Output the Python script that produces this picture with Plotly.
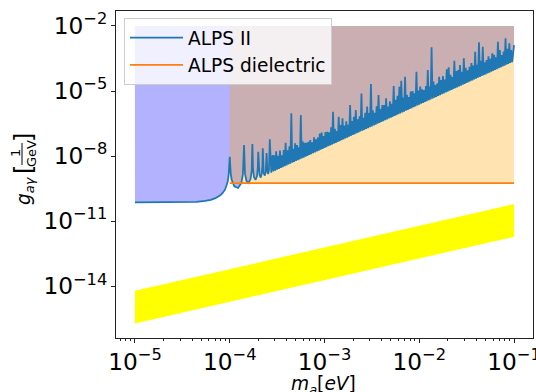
import plotly.graph_objects as go

# ALPS II sensitivity: pairs of (log10 m_a [eV], log10 g_ag [1/GeV])
alps2_flat = [
    (-5.00, -10.14), (-4.70, -10.14), (-4.50, -10.13), (-4.35, -10.11),
    (-4.26, -10.07), (-4.20, -10.02), (-4.151, -9.94), (-4.10, -9.81),
    (-4.077, -9.71), (-4.05, -9.55), (-4.035, -9.37), (-4.02, -9.15),
    (-4.011, -8.86),
]
alps2_resonances = [
    (-4.000, -8.03), (-3.989, -8.82), (-3.979, -9.09), (-3.952, -9.40),
    (-3.912, -9.47), (-3.878, -9.25), (-3.861, -8.85), (-3.849, -7.49),
    (-3.839, -8.81), (-3.824, -9.14), (-3.801, -9.245), (-3.780, -9.05),
    (-3.768, -8.67), (-3.761, -7.45), (-3.754, -8.64), (-3.744, -8.98),
    (-3.728, -9.10), (-3.712, -8.92), (-3.704, -8.54), (-3.699, -7.80),
    (-3.694, -8.52), (-3.686, -8.86), (-3.673, -8.99), (-3.662, -8.82),
    (-3.655, -8.44), (-3.651, -7.64), (-3.642, -8.77), (-3.630, -8.90),
    (-3.620, -8.73), (-3.611, -7.86), (-3.603, -8.70), (-3.594, -8.83),
    (-3.586, -8.66), (-3.577, -7.23), (-3.562, -8.77), (-3.548, -7.95),
]
alps2_comb = [
    (-3.54, -8.71), (-3.53, -7.97), (-3.52, -8.67), (-3.51, -7.78),
    (-3.50, -8.63), (-3.49, -7.99), (-3.48, -8.59), (-3.47, -7.75),
    (-3.46, -8.55), (-3.45, -7.96), (-3.44, -8.51), (-3.43, -7.72),
    (-3.42, -8.47), (-3.41, -7.39), (-3.40, -8.43), (-3.39, -7.74),
    (-3.38, -8.39), (-3.37, -7.55), (-3.36, -8.35), (-3.35, -6.03),
    (-3.34, -8.31), (-3.33, -7.67), (-3.32, -8.27), (-3.31, -7.41),
    (-3.30, -8.23), (-3.29, -7.49), (-3.28, -8.19), (-3.27, -7.60),
    (-3.26, -8.15), (-3.25, -6.11), (-3.24, -8.11), (-3.23, -7.32),
    (-3.22, -8.07), (-3.21, -7.39), (-3.20, -8.03), (-3.19, -7.39),
    (-3.18, -7.99), (-3.17, -7.34), (-3.16, -7.95), (-3.15, -7.26),
    (-3.14, -7.91), (-3.13, -7.37), (-3.12, -7.87), (-3.11, -7.13),
    (-3.10, -7.83), (-3.09, -7.23), (-3.08, -7.79), (-3.07, -7.15),
    (-3.06, -7.75), (-3.05, -6.96), (-3.04, -7.71), (-3.03, -6.92),
    (-3.02, -7.67), (-3.01, -7.08), (-3.00, -7.63), (-2.99, -6.89),
    (-2.98, -7.59), (-2.97, -6.88), (-2.96, -7.55), (-2.95, -6.91),
    (-2.94, -7.51), (-2.93, -6.67), (-2.92, -7.47), (-2.91, -5.96),
    (-2.90, -7.43), (-2.89, -6.74), (-2.88, -7.39), (-2.87, -6.85),
    (-2.86, -7.35), (-2.85, -6.19), (-2.84, -7.31), (-2.83, -6.57),
    (-2.82, -7.27), (-2.81, -6.26), (-2.80, -7.23), (-2.79, -6.59),
    (-2.78, -7.19), (-2.77, -6.40), (-2.76, -7.15), (-2.75, -6.56),
    (-2.74, -7.11), (-2.73, -5.65), (-2.72, -7.07), (-2.71, -6.38),
    (-2.70, -7.03), (-2.69, -6.19), (-2.68, -6.99), (-2.67, -5.88),
    (-2.66, -6.95), (-2.65, -6.31), (-2.64, -6.91), (-2.63, -6.17),
    (-2.62, -6.87), (-2.61, -5.11), (-2.60, -6.83), (-2.59, -6.24),
    (-2.58, -6.79), (-2.57, -6.00), (-2.56, -6.75), (-2.55, -5.72),
    (-2.54, -6.71), (-2.53, -6.02), (-2.52, -6.67), (-2.51, -4.68),
    (-2.50, -6.63), (-2.49, -5.89), (-2.48, -6.59), (-2.47, -6.00),
    (-2.46, -6.55), (-2.45, -5.71), (-2.44, -6.51), (-2.43, -5.19),
    (-2.42, -6.47), (-2.41, -5.83), (-2.40, -6.43), (-2.39, -5.65),
    (-2.38, -6.39), (-2.37, -5.65), (-2.36, -6.35), (-2.35, -5.34),
    (-2.34, -6.31), (-2.33, -5.72), (-2.32, -6.27), (-2.31, -5.48),
    (-2.30, -6.23), (-2.29, -5.59), (-2.28, -6.19), (-2.27, -4.77),
    (-2.26, -6.15), (-2.25, -5.41), (-2.24, -6.11), (-2.23, -5.22),
    (-2.22, -6.07), (-2.21, -4.80), (-2.20, -6.03), (-2.19, -4.53),
    (-2.18, -5.99), (-2.17, -5.30), (-2.16, -5.95), (-2.15, -4.34),
    (-2.14, -5.91), (-2.13, -5.17), (-2.12, -5.87), (-2.11, -5.28),
    (-2.10, -5.83), (-2.09, -5.03), (-2.08, -5.79), (-2.07, -5.00),
    (-2.06, -5.75), (-2.05, -5.11), (-2.04, -5.71), (-2.03, -4.11),
    (-2.02, -5.67), (-2.01, -4.98), (-2.00, -5.63), (-1.99, -4.79),
    (-1.98, -5.59), (-1.97, -4.92), (-1.96, -5.55), (-1.95, -4.96),
    (-1.94, -5.51), (-1.93, -4.77), (-1.92, -5.47), (-1.91, -4.03),
    (-1.90, -5.43), (-1.89, -4.79), (-1.88, -5.39), (-1.87, -2.98),
    (-1.86, -5.35), (-1.85, -4.56), (-1.84, -5.31), (-1.83, -4.72),
    (-1.82, -5.27), (-1.81, -4.65), (-1.80, -5.23), (-1.79, -4.34),
    (-1.78, -5.19), (-1.77, -4.50), (-1.76, -5.15), (-1.75, -4.31),
    (-1.74, -5.11), (-1.73, -4.47), (-1.72, -5.07), (-1.71, -4.00),
    (-1.70, -5.03), (-1.69, -3.91), (-1.68, -4.99), (-1.67, -4.25),
    (-1.66, -4.95), (-1.65, -4.36), (-1.64, -4.91), (-1.63, -3.60),
    (-1.62, -4.87), (-1.61, -4.08), (-1.60, -4.83), (-1.59, -4.03),
    (-1.58, -4.79), (-1.57, -3.80), (-1.56, -4.75), (-1.55, -4.11),
    (-1.54, -4.71), (-1.53, -3.49), (-1.52, -4.67), (-1.51, -3.93),
    (-1.50, -4.63), (-1.49, -4.04), (-1.48, -4.59), (-1.47, -3.88),
    (-1.46, -4.55), (-1.45, -3.71), (-1.44, -4.51), (-1.43, -3.82),
    (-1.42, -4.47), (-1.41, -3.19), (-1.40, -4.43), (-1.39, -3.79),
    (-1.38, -4.39), (-1.37, -2.75), (-1.36, -4.35), (-1.35, -3.61),
    (-1.34, -4.31), (-1.33, -2.96), (-1.32, -4.27), (-1.31, -3.68),
    (-1.30, -4.23), (-1.29, -3.57), (-1.28, -4.19), (-1.27, -3.40),
    (-1.26, -4.15), (-1.25, -3.51), (-1.24, -4.11), (-1.23, -3.26),
    (-1.22, -4.07), (-1.21, -3.33), (-1.20, -4.03), (-1.19, -3.44),
    (-1.18, -3.99), (-1.17, -2.73), (-1.16, -3.95), (-1.15, -3.11),
    (-1.14, -3.91), (-1.13, -3.34), (-1.12, -3.87), (-1.11, -3.18),
    (-1.10, -3.83), (-1.09, -2.57), (-1.08, -3.79), (-1.07, -3.05),
    (-1.06, -3.75), (-1.05, -2.80), (-1.04, -3.71), (-1.03, -3.11),
    (-1.02, -3.67), (-1.01, -3.03), (-1.00, -2.88),
]

# ALPS with dielectric stack: flat reach above 0.1 meV
dielectric_mass = [1e-4, 1e-1]
dielectric_coupling = [5.7e-10, 5.7e-10]

# QCD axion band
band_mass = [1e-5, 1e-1]
band_upper = [6.1e-15, 6.1e-11]
band_lower = [1.9e-16, 1.9e-12]

# upper edge of the shaded reach regions
ceiling = 1e-2

FONT = "DejaVu Sans"
W, H = 536, 392
L_M, R_M, T_M, B_M = 116, 3, 11, 54
PW, PH = W - L_M - R_M, H - T_M - B_M


def px(x):
    return (x - L_M) / PW


def py(y):
    return (H - B_M - y) / PH


points = alps2_flat + alps2_resonances + alps2_comb
alps2_mass = [10 ** lm for lm, _ in points]
alps2_coupling = [10 ** lg for _, lg in points]

fig = go.Figure()

# ALPS II reach (shaded up to the ceiling)
fig.add_trace(go.Scatter(
    x=alps2_mass + [alps2_mass[-1], alps2_mass[0]],
    y=alps2_coupling + [ceiling, ceiling],
    fill="toself", fillcolor="rgba(0,0,255,0.3)",
    line=dict(width=0), mode="lines", hoverinfo="skip", showlegend=False,
))
# dielectric reach
fig.add_trace(go.Scatter(
    x=dielectric_mass + dielectric_mass[::-1],
    y=dielectric_coupling + [ceiling, ceiling],
    fill="toself", fillcolor="rgba(255,165,0,0.3)",
    line=dict(width=0), mode="lines", hoverinfo="skip", showlegend=False,
))
# QCD axion band
fig.add_trace(go.Scatter(
    x=band_mass + band_mass[::-1],
    y=band_upper + band_lower[::-1],
    fill="toself", fillcolor="rgb(255,255,0)",
    line=dict(width=0), mode="lines", hoverinfo="skip", showlegend=False,
))
fig.add_trace(go.Scatter(
    x=alps2_mass, y=alps2_coupling, mode="lines", name="ALPS II",
    line=dict(color="#1f77b4", width=1.75),
))
fig.add_trace(go.Scatter(
    x=dielectric_mass, y=dielectric_coupling, mode="lines",
    name="ALPS dielectric", line=dict(color="#ff7f0e", width=1.75),
))

tick_font = dict(family=FONT, size=18.6, color="black")
fig.update_xaxes(
    type="log", range=[-5.2, -0.8], dtick=1, exponentformat="power",
    showgrid=False, zeroline=False, showline=True, mirror=True,
    linecolor="#222", linewidth=0.93, ticks="outside", ticklen=4,
    tickwidth=0.93, tickcolor="#222", tickfont=tick_font,
    ticklabeloverflow="allow", automargin=False,
    minor=dict(ticks="outside", ticklen=2.3, tickwidth=0.7,
               tickcolor="#222", showgrid=False),
)
fig.update_yaxes(
    type="log", range=[-16.39, -1.31], tick0=-2, dtick=3,
    exponentformat="power", showgrid=False, zeroline=False, showline=True,
    mirror=True, linecolor="#222", linewidth=0.93, ticks="outside",
    ticklen=4, tickwidth=0.93, tickcolor="#222", tickfont=tick_font,
    automargin=False,
)

ann = []
# x-axis label m_a[eV]
ann.append(dict(text="<i>m</i><sub><i>a</i></sub>[<i>eV</i>]",
                x=px(323), y=py(385), xref="paper", yref="paper",
                xanchor="center", yanchor="middle", showarrow=False,
                font=dict(family=FONT, size=18.6, color="black")))
# y-axis label g_ag [1/GeV], assembled piece by piece
lab = dict(xref="paper", yref="paper", xanchor="center", yanchor="middle",
           showarrow=False, textangle=-90)
ann.append(dict(text="<i>g</i><sub><i>aγ</i></sub>", x=px(25), y=py(191),
                font=dict(family=FONT, size=18.6, color="black"), **lab))
ann.append(dict(text="[", x=px(24), y=py(170),
                font=dict(family=FONT, size=24, color="black"), **lab))
ann.append(dict(text="1", x=px(15), y=py(153),
                font=dict(family=FONT, size=13, color="black"), **lab))
ann.append(dict(text="GeV", x=px(31), y=py(154),
                font=dict(family=FONT, size=13, color="black"), **lab))
ann.append(dict(text="]", x=px(24), y=py(138),
                font=dict(family=FONT, size=24, color="black"), **lab))

fig.update_layout(
    width=W, height=H,
    margin=dict(l=L_M, r=R_M, t=T_M, b=B_M, autoexpand=False),
    paper_bgcolor="white", plot_bgcolor="white",
    font=dict(family=FONT, size=18.6, color="black"),
    annotations=ann,
    shapes=[dict(type="line", xref="paper", yref="paper",
                 x0=px(22), x1=px(22), y0=py(143), y1=py(165),
                 line=dict(color="black", width=1))],
    legend=dict(x=px(124), y=py(18), xanchor="left", yanchor="top",
                bgcolor="rgba(255,255,255,0.8)", bordercolor="#ccc",
                borderwidth=1, font=dict(family=FONT, size=18.6),
                itemwidth=53),
    showlegend=True,
)

fig.write_html("out.html")
